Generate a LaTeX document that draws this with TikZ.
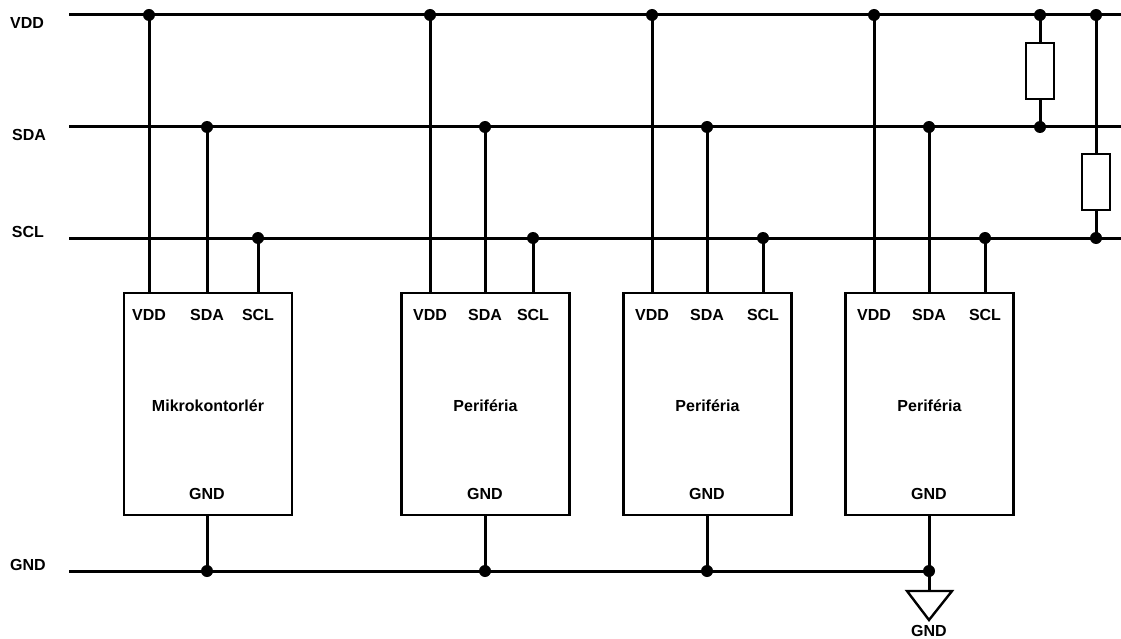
\documentclass[tikz,border=0pt]{standalone}
\usepackage{fontspec}
\setmainfont{Liberation Sans}
\begin{document}
\begin{tikzpicture}[x=1pt,y=-1pt,
  wire/.style={line width=3pt},
  box/.style={draw,line width=2.8pt,minimum width=168pt,minimum height=222pt,inner sep=0pt},
  res/.style={draw,line width=2.8pt,minimum width=28pt,minimum height=56pt,inner sep=0pt,fill=white},
  lbl/.style={font=\fontsize{16}{18}\selectfont\bfseries,inner sep=0pt},
  dot/.style={circle,fill=black,inner sep=0pt,minimum size=12pt}]
\useasboundingbox (0,0) rectangle (1121,639);
% bus labels
\node[lbl] (lvdd) at (27,23) {VDD};
\node[lbl] (lsda) at (29,135) {SDA};
\node[lbl] (lscl) at (28,232) {SCL};
\node[lbl] (lgnd) at (28,565) {GND};
% buses
\coordinate (vddL) at (69,15);  \coordinate (vddR) at (1121,15);
\coordinate (sdaL) at (69,127); \coordinate (sdaR) at (1121,127);
\coordinate (sclL) at (69,238); \coordinate (sclR) at (1121,238);
\coordinate (gndL) at (69,571); \coordinate (gndR) at (929,571);
\draw[wire] (vddL) -- (vddR);
\draw[wire] (sdaL) -- (sdaR);
\draw[wire] (sclL) -- (sclR);
\draw[wire] (gndL) -- (gndR);
% blocks
\foreach \i/\cx/\vx/\sx/\kx/\gx/\txt in {1/208/149/207/258/207/Mikrokontorlér,2/485.5/430/485/533/485/Periféria,3/707.5/652/707/763/707/Periféria,4/929.5/874/929/985/929/Periféria}{
  \node[box] (b\i) at (\cx,404) {};
  \node[lbl] (b\i t) at (\cx,406) {\txt};
  \node[lbl] (b\i v) at (\vx,315) {VDD};
  \node[lbl] (b\i s) at (\sx,315) {SDA};
  \node[lbl] (b\i k) at (\kx,315) {SCL};
  \node[lbl] (b\i g) at (\gx,494) {GND};
  \node[dot] (jv\i) at (\vx,15) {};
  \node[dot] (js\i) at (\sx,127) {};
  \node[dot] (jk\i) at (\kx,238) {};
  \node[dot] (jg\i) at (\gx,571) {};
  \draw[wire] (jv\i.center) -- (jv\i.center |- b\i.north);
  \draw[wire] (js\i.center) -- (js\i.center |- b\i.north);
  \draw[wire] (jk\i.center) -- (jk\i.center |- b\i.north);
  \draw[wire] (jg\i.center |- b\i.south) -- (jg\i.center);
}
% pull-up resistors
\node[dot] (r1t) at (1040,15) {};
\node[dot] (r1b) at (1040,127) {};
\node[dot] (r2t) at (1096,15) {};
\node[dot] (r2b) at (1096,238) {};
\node[res] (r1) at (1040,71) {};
\node[res] (r2) at (1096,182) {};
\draw[wire] (r1t.center) -- (r1.north);
\draw[wire] (r1.south) -- (r1b.center);
\draw[wire] (r2t.center) -- (r2.north);
\draw[wire] (r2.south) -- (r2b.center);
% ground symbol
\coordinate (gt) at (929,591);
\draw[wire] (jg4.center) -- (gt);
\draw[line width=2.4pt,line join=miter] (907,591) -- (952,591) -- (929,620) -- cycle;
\node[lbl] (gsym) at (929,631) {GND};
\end{tikzpicture}
\end{document}
